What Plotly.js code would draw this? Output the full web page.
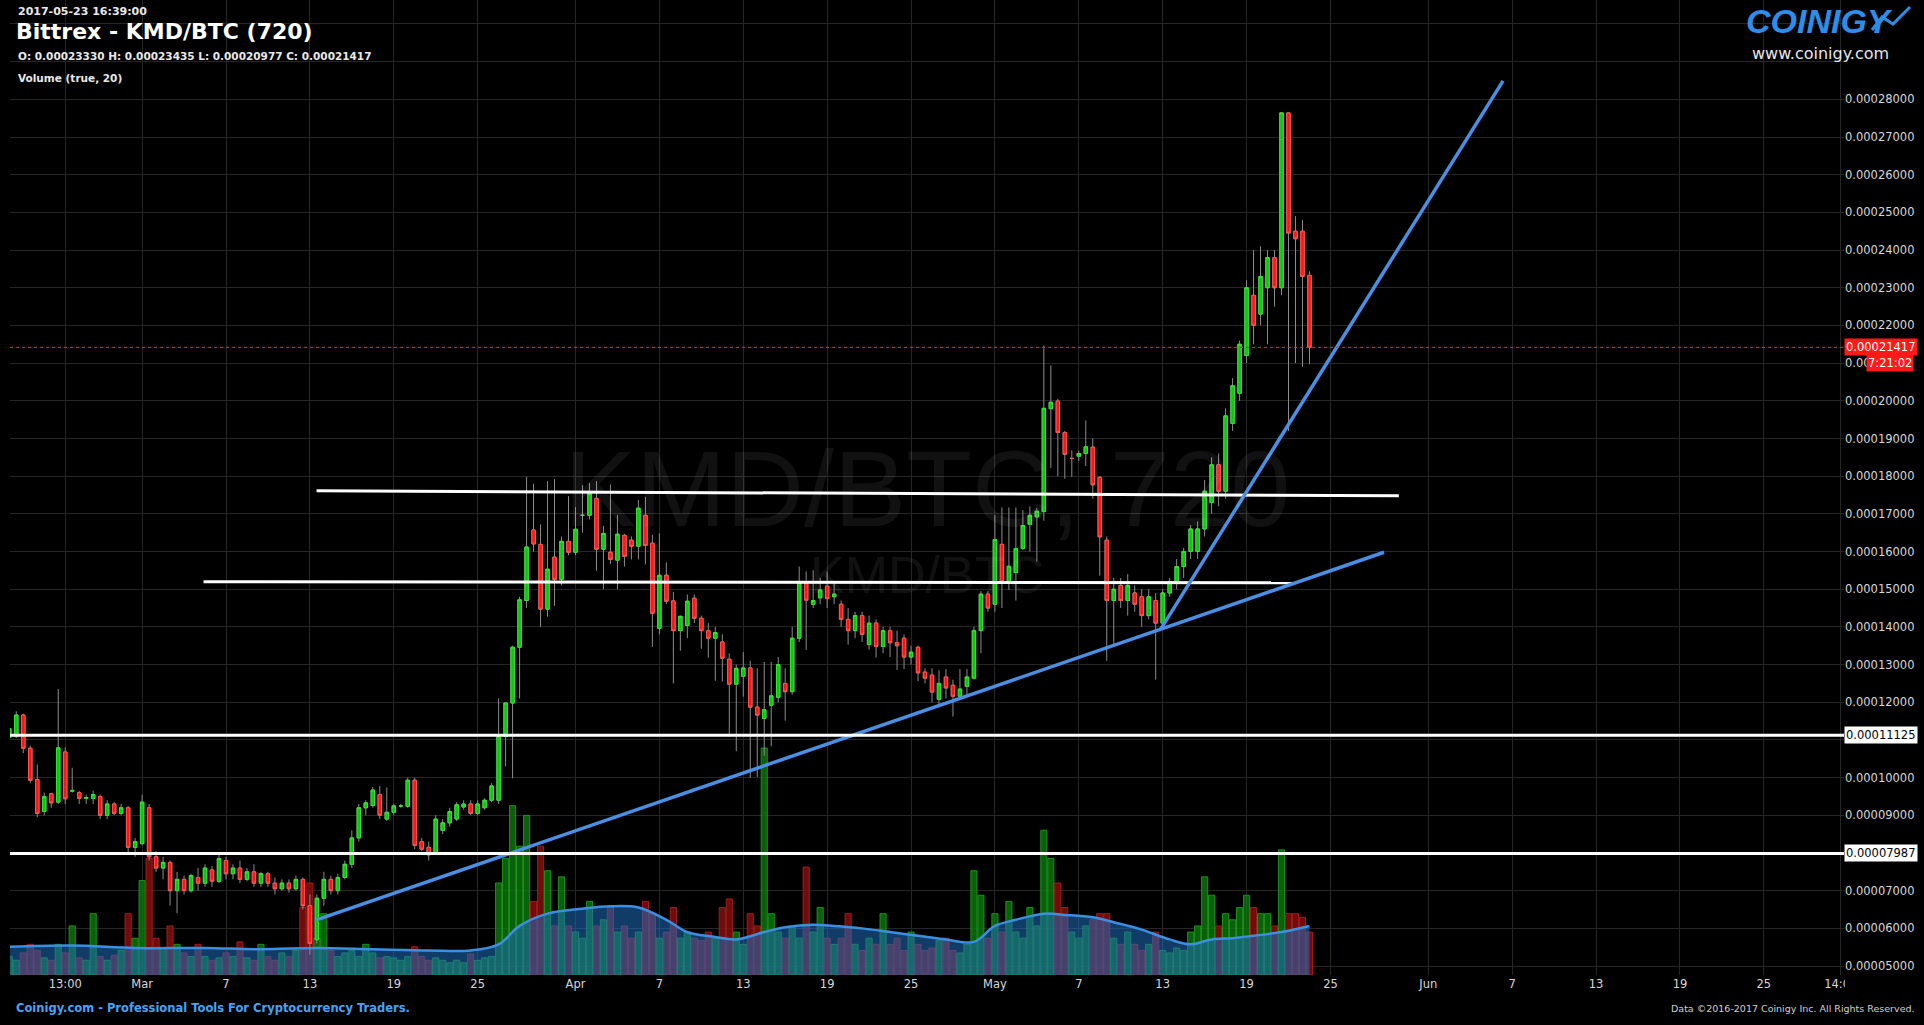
<!DOCTYPE html>
<html><head><meta charset="utf-8">
<script src="https://cdn.plot.ly/plotly-3.0.1.min.js"></script>
<style>html,body{margin:0;padding:0;background:#000;overflow:hidden}#chart{width:1924px;height:1025px}</style>
</head><body><div id="chart"></div>
<script>
// ---- data (prices in satoshi, 1e-8 BTC) ----
const firstCandleUTC = Date.UTC(2017, 1, 19, 12, 0);   // 720-minute candles
const candleMinutes = 720;

const open = [
11070,11100,11660,10780,9950,9100,9570,9350,10680,9640,
9600,9450,9450,9500,9000,9300,9050,9200,8150,8250,
9200,7900,7600,7750,7000,7300,7000,7350,7200,7550,
7250,7800,7450,7600,7300,7500,7200,7450,7200,7050,
7200,7050,7300,6600,5700,6800,7300,7000,7350,7700,
8400,9200,9260,9550,8900,9080,9250,9240,9930,8300,
8150,8000,8600,8800,8900,9220,9300,9050,9200,9400,
9400,11090,11980,13460,14700,16570,16190,14470,15850,15260,
16270,15980,16960,16960,17410,16060,15980,15770,16430,16300,
16140,16960,16220,13960,15370,14690,13900,14040,14760,14230,
13900,13700,13600,13140,12480,12690,12910,11870,11570,11920,
12130,12500,12280,13700,15190,14600,14770,15080,14800,14600,
14200,13900,14300,13530,14100,13480,13900,13580,13700,13200,
13460,12800,12720,12080,12670,12450,12160,12420,12640,13900,
14870,14600,16190,15200,15440,16080,16720,16920,17060,19790,
19990,19160,18470,18530,18600,18770,17970,16300,14700,15100,
14700,14900,14800,14300,14700,14100,14900,15200,15600,16000,
16000,16600,17300,18300,17600,19400,20200,21200,22800,22300,
23000,23800,23000,27640,24500,24500,23330];
const high = [
11350,11760,11700,10850,10350,9600,9600,12350,10800,10260,
9650,9550,9650,9550,9400,9350,9300,9250,8400,9550,
9300,8050,7900,7800,7500,7400,7450,7600,7700,7650,
8000,7900,7700,7800,7600,7700,7500,7500,7350,7300,
7300,7400,7350,6900,6900,7500,7400,7450,7800,8600,
9300,9400,9750,9780,9740,9300,9300,10000,10000,8400,
8300,9000,8900,9200,9350,9400,9400,9400,9450,9850,
12100,12000,13500,14800,17980,17800,16720,17870,17920,16400,
17470,17180,17760,17820,17870,16680,17780,16970,16470,16400,
17370,17450,16440,16480,15710,14930,14300,14860,14860,14300,
14100,14000,13800,13300,13000,13330,13100,12900,13070,13070,
13200,12900,14000,15600,15470,15500,15300,15470,15200,14700,
14500,14400,14400,14300,14200,14000,14000,13900,13800,13500,
13500,12900,12900,12850,12880,12600,12880,12880,14000,14950,
14950,16970,17170,17170,17170,17100,17200,17150,21470,20940,
20050,19200,18680,18680,19480,19000,18000,16400,15300,15300,
15400,15100,15000,15000,14900,15000,15300,15800,16100,16700,
16800,17900,18500,18600,19800,20600,21600,23200,24000,24100,
24000,24000,27640,27640,24900,24800,23435];
const low = [
11000,11050,10650,9850,8950,9000,9200,9300,9300,9600,
9300,9300,9300,8900,8900,9000,9000,8000,7900,8200,
7800,7500,7300,6600,6400,6900,6950,7000,7100,7100,
7200,7300,7300,7200,7250,7100,7100,7100,6900,7000,
6950,7000,6500,5300,5600,6600,6900,6900,7300,7600,
8300,9000,9200,8900,8850,9000,9200,9200,8100,8050,
7800,7950,8500,8700,8850,9150,9000,9000,9150,9350,
9300,10300,9980,12100,14500,16000,14000,14270,14560,15100,
15900,15900,16500,16850,15490,15000,15670,15000,15600,15790,
15790,15660,13470,13800,14600,12500,13370,13700,14100,13420,
13180,12570,12550,11090,10700,12150,9990,10020,10580,10830,
12000,11510,12200,13600,13390,14500,14600,14500,14600,14000,
13530,13700,13600,13400,13190,13300,13200,12860,12880,13000,
12560,12500,12000,11880,12100,11620,12100,12200,12600,13300,
14400,14400,14500,14980,14700,16040,16000,15730,16820,18220,
18000,17930,17980,18400,18270,17400,15360,13100,13500,14500,
14300,14400,14000,14200,12600,14000,14800,15000,15300,15800,
15800,16400,17000,17200,17400,19200,20000,21000,21500,22000,
21500,22500,22800,19200,21000,20900,20977];
const close = [
11300,11660,10780,9930,9050,9500,9330,10790,9440,9660,
9450,9470,9550,9000,9300,9050,9200,8150,8300,9350,
7900,7600,7750,7000,7300,7000,7400,7200,7600,7250,
7850,7450,7600,7300,7500,7200,7450,7200,7050,7200,
7050,7300,6600,5600,6800,7300,7000,7350,7700,8400,
9200,9330,9670,9000,9080,9250,9250,9930,8200,8100,
7950,8900,8800,9100,9280,9300,9050,9300,9400,9780,
11100,11980,13460,14720,16120,16200,14470,15530,15260,16270,
15980,16590,16960,17540,16060,16480,15790,16460,15870,16140,
17150,16160,14360,15370,14680,13900,14280,14680,14230,13900,
13700,13850,13170,12480,12900,12910,11870,11660,11800,12170,
13000,12280,13700,15190,14710,14700,14980,14750,14870,14200,
13900,14300,13800,14100,13480,13900,13580,13500,13200,13330,
12780,12640,12270,12500,12380,12160,12350,12670,13900,14870,
14500,16320,15200,15610,16080,16690,16960,17070,19800,19960,
19160,18580,18470,18600,18780,17770,16390,14700,15000,14700,
15100,14600,14300,14800,14100,14900,15200,15600,16000,16600,
16600,17600,18300,17600,19600,20400,21500,23000,22000,23300,
23800,23000,27640,24450,24300,23300,21417];
// volume (relative units, no axis shown)
const volume = [
15,12,18,25,20,14,12,25,18,40,
14,12,50,15,12,16,20,50,30,77,
95,30,22,40,25,18,15,25,15,12,
14,18,15,27,14,12,25,15,12,18,
15,20,55,75,30,50,20,15,18,20,
15,25,18,14,15,14,12,15,23,15,
12,14,12,10,12,10,17,12,14,15,
75,95,138,105,130,60,105,85,40,80,
40,35,30,60,40,45,55,35,40,30,
35,60,50,30,35,55,30,35,30,28,
35,30,55,62,35,25,50,40,185,50,
35,30,40,30,88,35,55,30,25,30,
50,25,20,30,25,50,25,30,20,35,
25,20,22,28,30,20,18,25,85,65,
30,50,35,60,35,30,55,40,118,95,
75,55,35,30,40,45,50,50,30,25,
35,25,20,25,35,20,18,22,20,35,
40,80,65,40,50,45,55,65,55,50,
50,40,102,50,50,47,35];
// volume moving average (20) read at these candle indices
const volMAIndex = [0,9,18,28,36,44,52,60,66,70,73,77,82,86,90,94,97,101,104,108,111,115,118,122,126,130,134,138,141,144,148,151,155,158,162,166,169,172,175,178,182,186];
const volMA      = [23,24,22,22,21,22,21,20,20,25,40,50,54,56,55,45,35,31,29,35,39,41,40,38,35,32,29,27,40,45,50,49,47,43,37,29,25,29,30,32,35,40];

const xTickDates  = ['2017-02-23 12:00','2017-03-01','2017-03-07','2017-03-13','2017-03-19','2017-03-25','2017-04-01','2017-04-07','2017-04-13','2017-04-19','2017-04-25','2017-05-01','2017-05-07','2017-05-13','2017-05-19','2017-05-25','2017-06-01','2017-06-07','2017-06-13','2017-06-19','2017-06-25','2017-06-30 12:00'];
const xTickLabels = ['13:00','Mar','7','13','19','25','Apr','7','13','19','25','May','7','13','19','25','Jun','7','13','19','25','14:00'];
const priceTicks = [5000,6000,7000,8000,9000,10000,11000,12000,13000,14000,15000,16000,17000,18000,19000,20000,21000,22000,23000,24000,25000,26000,27000,28000,29000,30000];
// labels hidden behind the logo or the price boxes; 0.00021000 shows only its first characters
const priceTickText = {8000:'', 11000:'', 21000:'0.00', 29000:'', 30000:''};

// drawn lines: [time, price]
const whiteSegments = [
  [['2017-03-13 11:30',17610],['2017-05-29 21:30',17480]],
  [['2017-03-05 09:30',15200],['2017-05-22 06:00',15170]]
];
const whiteLevels = [11125, 7987];
const blueSegments = [
  [['2017-03-13 11:30',6224],['2017-05-28 20:00',15980]],
  [['2017-05-12 20:40',13940],['2017-06-06 08:20',28490]]
];
const lastPrice = 21417;
const countdown = '7:21:02';

// ---- build ----
const S = 1e-8;
const times = open.map((_, i) => new Date(firstCandleUTC + i*candleMinutes*60000).toISOString().slice(0,16).replace('T',' '));
const isUp = open.map((o, i) => close[i] >= o);
const fmt = v => (v*S).toFixed(8);

const W = 1924, H = 1025, PL = 10, PR = 1844, PT = 0, PB = 975;
const px = x => (x - PL)/(PR - PL);
const py = y => (PB - y)/(PB - PT);

const traces = [];
traces.push({
  type:'bar', x: times, y: volume, xaxis:'x', yaxis:'y',
  width: candleMinutes*60000*0.88,
  marker:{color: isUp.map(u => u ? 'rgba(14,120,14,0.8)' : 'rgba(130,14,14,0.85)'),
          line:{color: isUp.map(u => u ? 'rgba(30,160,30,0.85)' : 'rgba(180,30,30,0.85)'), width:1}},
  hoverinfo:'skip'
});
traces.push({
  type:'scatter', mode:'lines', x: volMAIndex.map(i => times[i]), y: volMA, xaxis:'x', yaxis:'y',
  line:{color:'#3b8fe0', width:2.5, shape:'spline'}, fill:'tozeroy', fillcolor:'rgba(32,110,190,0.55)', hoverinfo:'skip'
});
// wicks
traces.push({
  type:'candlestick', x: times, open: open.map(v=>v*S), high: high.map(v=>v*S), low: low.map(v=>v*S), close: close.map(v=>v*S),
  xaxis:'x', yaxis:'y2',
  increasing:{line:{color:'#8c8c8c', width:1}, fillcolor:'#8c8c8c'},
  decreasing:{line:{color:'#8c8c8c', width:1}, fillcolor:'#8c8c8c'},
  whiskerwidth:0, hoverinfo:'skip'
});
// bodies
traces.push({
  type:'candlestick', x: times, open: open.map(v=>v*S), close: close.map(v=>v*S),
  high: open.map((o,i)=>Math.max(o, close[i])*S), low: open.map((o,i)=>Math.min(o, close[i])*S),
  xaxis:'x', yaxis:'y2',
  increasing:{line:{color:'#2ee62e', width:1}, fillcolor:'#13c213'},
  decreasing:{line:{color:'#ff5050', width:1}, fillcolor:'#ff1414'},
  whiskerwidth:0, hoverinfo:'skip'
});
whiteSegments.forEach(seg => traces.push({
  type:'scatter', mode:'lines', x: seg.map(p=>p[0]), y: seg.map(p=>p[1]*S), xaxis:'x', yaxis:'y2',
  line:{color:'#ffffff', width:3}, hoverinfo:'skip'
}));
blueSegments.forEach(seg => traces.push({
  type:'scatter', mode:'lines', x: seg.map(p=>p[0]), y: seg.map(p=>p[1]*S), xaxis:'x', yaxis:'y2',
  line:{color:'#4a8fe3', width:3.5}, hoverinfo:'skip'
}));

const shapes = [];
whiteLevels.forEach(v => shapes.push({type:'line', xref:'paper', x0:0, x1:1, yref:'y2', y0:v*S, y1:v*S, line:{color:'#ffffff', width:3}, layer:'above'}));
shapes.push({type:'line', xref:'paper', x0:0, x1:1, yref:'y2', y0:lastPrice*S, y1:lastPrice*S, line:{color:'#ff2020', width:1, dash:'dot'}, layer:'above'});
shapes.push({type:'rect', xref:'paper', yref:'paper', x0:1.0005, x1:1.06, y0:-0.06, y1:-0.002, fillcolor:'#000', line:{width:0}, layer:'above'});
// small logo glyph (line chart icon)
shapes.push({type:'path', xref:'paper', yref:'paper', layer:'above',
  path:`M ${px(1872)},${py(30)} L ${px(1882)},${py(17)} L ${px(1893)},${py(24)} L ${px(1910)},${py(7)}`,
  line:{color:'#2d8de8', width:3}});

const F = 'DejaVu Sans';
const ann = [];
const txt = (x, y, text, size, color, opts={}) => ann.push(Object.assign({xref:'paper', yref:'paper', x:px(x), y:py(y), text, showarrow:false, xanchor:'left', yanchor:'middle', font:{family:F, size, color}}, opts));
txt(16, 11, '<b>2017-05-23 16:39:00</b>', 11, '#e8e8e8');
txt(14, 32, '<b>Bittrex - KMD/BTC (720)</b>', 22, '#ffffff');
txt(16, 56, '<b>O: 0.00023330 H: 0.00023435 L: 0.00020977 C: 0.00021417</b>', 10.5, '#e8e8e8');
txt(16, 78, '<b>Volume (true, 20)</b>', 10.5, '#e8e8e8');
// watermark
ann.push({xref:'paper', yref:'paper', x:0.5, y:py(488), text:'KMD/BTC, 720', showarrow:false, xanchor:'center', yanchor:'middle', font:{family:'Liberation Sans', size:108, color:'rgba(255,255,255,0.065)'}});
ann.push({xref:'paper', yref:'paper', x:0.5, y:py(575), text:'KMD/BTC', showarrow:false, xanchor:'center', yanchor:'middle', font:{family:'Liberation Sans', size:52, color:'rgba(255,255,255,0.065)'}});
// logo
txt(1744, 21, '<b><i>COINIGY</i></b>', 34, '#2d8de8', {font:{family:'Liberation Sans Narrow, Liberation Sans', size:34, color:'#2d8de8'}});
txt(1750, 53, 'www.coinigy.com', 16, '#e6e6e6');
// footer
txt(14, 1008, '<b>Coinigy.com - Professional Tools For Cryptocurrency Traders.</b>', 11.5, '#4aa3f5');
txt(1917, 1008, 'Data ©2016-2017 Coinigy Inc. All Rights Reserved.', 9.5, '#d0d0d0', {xanchor:'right'});
// price boxes on the right axis
const box = (price, text, bg, fg, opts={}) => ann.push(Object.assign({xref:'paper', yref:'y2', x:1, y:price*S, text, showarrow:false, xanchor:'left', yanchor:'middle', xshift:0, bgcolor:bg, borderpad:1, font:{family:F, size:11.5, color:fg}}, opts));
box(lastPrice, fmt(lastPrice), '#ff1a1a', '#ffffff');
box(21000, countdown, '#ff1a1a', '#ffffff', {x:px(1914), xanchor:'right'});
whiteLevels.forEach(v => box(v, fmt(v), '#ffffff', '#000000'));

const layout = {
  width: W, height: H, paper_bgcolor:'#000', plot_bgcolor:'#000',
  margin:{l:PL, r:W-PR, t:PT, b:H-PB, pad:0}, showlegend:false,
  xaxis:{type:'date', range:['2017-02-19 13:12','2017-06-30 17:38'], tickmode:'array', tickvals:xTickDates, ticktext:xTickLabels,
         showgrid:true, gridcolor:'#262626', gridwidth:1, zeroline:false, showline:false, ticks:'', rangeslider:{visible:false},
         tickfont:{family:F, size:11.5, color:'#d8d8d8'}, fixedrange:true},
  yaxis:{range:[0, 794.6], visible:false, showgrid:false, fixedrange:true},
  yaxis2:{overlaying:'y', side:'right', anchor:'x', range:[4.7622e-5, 30.6354e-5], tickmode:'array',
          tickvals: priceTicks.map(v=>v*S), ticktext: priceTicks.map(v => (v in priceTickText) ? priceTickText[v] : fmt(v)),
          showgrid:true, gridcolor:'#262626', gridwidth:1, zeroline:false, showline:false, ticks:'',
          tickfont:{family:F, size:11.5, color:'#d8d8d8'}, fixedrange:true},
  shapes, annotations: ann
};
Plotly.newPlot('chart', traces, layout, {staticPlot:true, displayModeBar:false});
</script></body></html>
